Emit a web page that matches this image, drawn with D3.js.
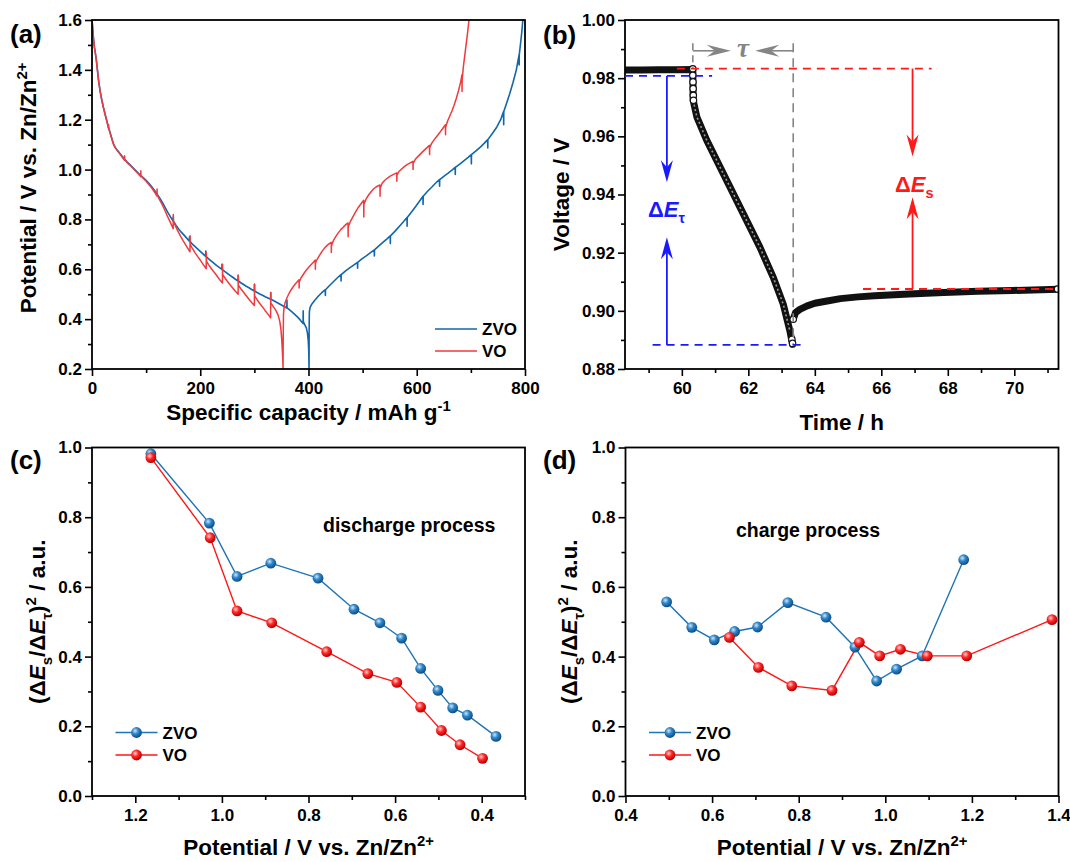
<!DOCTYPE html>
<html><head><meta charset="utf-8">
<script src="https://cdn.jsdelivr.net/npm/d3@7"></script>
<style>
body{margin:0;background:#fff}
svg{display:block;font-family:"Liberation Sans",Arial,sans-serif;font-weight:bold}
</style></head><body>
<svg id="fig" width="1070" height="862"></svg>
<script>
// ---------------- (a) GITT profiles: [specific capacity (mAh/g), potential (V)] ----------------
const zvoGitt = [[0,1.60],[1,1.575],[2,1.545],[3,1.52],[4.5,1.49],[6,1.47],[8,1.44],[10,1.40],[12,1.36],[15,1.315],[18,1.28],[21,1.25],[25,1.215],[28,1.19],[30,1.172],[33,1.152],[37,1.122],[40,1.102],[43,1.089],[47,1.077],[50,1.069],[55,1.055],[60,1.042],[65,1.03],[70,1.02],[75,1.009],[80,0.998],[85,0.987],[90,0.976],[95,0.967],[100,0.957],[105,0.945],[110,0.932],[115,0.918],[120,0.902],[125,0.886],[130,0.868],[135,0.848],[140,0.828],[145,0.81],[150,0.793],[150.2,0.81],[150.4,0.793],[155,0.777],[160,0.762],[165,0.749],[170,0.737],[175,0.725],[180,0.713],[180.2,0.73],[180.4,0.713],[185,0.702],[190,0.692],[195,0.682],[200,0.672],[205,0.662],[210,0.652],[210.2,0.673],[210.4,0.652],[215,0.643],[220,0.634],[225,0.625],[230,0.616],[235,0.608],[240,0.6],[240.2,0.62],[240.4,0.6],[245,0.592],[250,0.584],[255,0.576],[260,0.568],[265,0.56],[270,0.553],[270.2,0.576],[270.4,0.553],[275,0.546],[280,0.539],[285,0.532],[290,0.526],[295,0.519],[300,0.513],[300.2,0.54],[300.4,0.513],[305,0.507],[310,0.501],[315,0.496],[320,0.49],[325,0.485],[330,0.48],[330.2,0.507],[330.4,0.48],[335,0.475],[340,0.469],[345,0.463],[350,0.457],[355,0.451],[360,0.445],[360.2,0.477],[360.4,0.445],[365,0.437],[370,0.428],[375,0.418],[380,0.408],[385,0.396],[388,0.388],[390,0.382],[390.2,0.433],[390.4,0.39],[393,0.378],[396,0.365],[398,0.345],[399.5,0.315],[400.5,0.27],[401,0.2],
  [401.2,0.36],[401.6,0.43],[403,0.447],[406,0.46],[412,0.477],[418,0.492],[424,0.505],[431,0.518],[431.2,0.495],[431.4,0.518],[438,0.533],[445,0.548],[452,0.563],[460,0.579],[460.2,0.553],[460.4,0.579],[468,0.593],[476,0.606],[484,0.618],[490.5,0.628],[490.7,0.604],[490.9,0.628],[498,0.641],[506,0.653],[514,0.666],[521.5,0.678],[521.7,0.653],[521.9,0.678],[530,0.694],[538,0.709],[545,0.722],[551,0.734],[551.2,0.703],[551.4,0.734],[560,0.753],[568,0.773],[575,0.79],[582,0.808],[582.2,0.773],[582.4,0.808],[590,0.829],[598,0.852],[605,0.873],[611.5,0.893],[611.7,0.86],[611.9,0.893],[620,0.913],[628,0.93],[635,0.946],[642,0.96],[642.2,0.933],[642.4,0.96],[650,0.973],[658,0.986],[665,0.998],[671,1.009],[671.2,0.98],[671.4,1.009],[680,1.023],[688,1.037],[695,1.049],[700.7,1.06],[700.9,1.023],[701.1,1.06],[710,1.076],[718,1.091],[725,1.106],[731,1.12],[731.2,1.087],[731.4,1.12],[740,1.146],[748,1.171],[755,1.2],[760.4,1.233],[760.6,1.18],[760.8,1.233],[766,1.266],[772,1.306],[778,1.35],[784,1.40],[789,1.46],[789.2,1.42],[789.4,1.46],[792,1.51],[794,1.55],[796,1.6]];

const voGitt = [[0,1.60],[1,1.575],[2,1.545],[3,1.52],[4.5,1.49],[6,1.47],[8,1.44],[10,1.40],[12,1.36],[15,1.315],[18,1.28],[21,1.25],[25,1.215],[28,1.19],[30.5,1.165],[30.7,1.18],[30.9,1.167],[33,1.15],[37,1.12],[40,1.10],[43,1.087],[47,1.075],[50,1.067],[55,1.052],[60,1.037],[60.2,1.055],[60.4,1.04],[65,1.028],[70,1.018],[75,1.007],[80,0.995],[85,0.984],[90,0.971],[90.2,0.995],[90.4,0.976],[95,0.964],[100,0.953],[105,0.94],[110,0.927],[115,0.912],[120,0.893],[120.2,0.922],[120.4,0.898],[125,0.878],[130,0.858],[135,0.835],[140,0.81],[145,0.787],[150,0.763],[150.2,0.82],[150.4,0.795],[154,0.775],[158,0.756],[163,0.735],[168,0.716],[173,0.698],[177,0.684],[181,0.67],[181.2,0.735],[181.4,0.70],[185,0.686],[190,0.668],[195,0.652],[200,0.637],[205,0.621],[211,0.602],[211.2,0.668],[211.4,0.633],[215,0.62],[220,0.604],[225,0.59],[230,0.576],[235,0.561],[241,0.545],[241.2,0.62],[241.4,0.58],[245,0.567],[250,0.552],[255,0.538],[260,0.525],[265,0.512],[270,0.50],[270.2,0.576],[270.4,0.536],[275,0.522],[280,0.508],[285,0.494],[290,0.48],[295,0.467],[300,0.455],[300.2,0.54],[300.4,0.493],[305,0.478],[310,0.463],[315,0.449],[320,0.434],[325,0.42],[330,0.405],[330.2,0.507],[330.4,0.465],[335,0.45],[340,0.434],[344,0.415],[347,0.39],[349,0.36],[350.5,0.32],[351.5,0.28],[352.5,0.24],[353,0.2],
  [353.3,0.33],[353.8,0.42],[355,0.45],[357,0.468],[360,0.485],[364,0.503],[368,0.518],[372,0.531],[376,0.542],[380,0.552],[382.5,0.558],[382.7,0.525],[382.9,0.548],[386,0.565],[390,0.578],[395,0.594],[400,0.607],[405,0.619],[409,0.628],[412.5,0.637],[412.7,0.6],[412.9,0.625],[416,0.64],[420,0.655],[425,0.672],[430,0.686],[435,0.697],[439,0.704],[442,0.708],[442.2,0.667],[442.4,0.695],[446,0.715],[450,0.73],[455,0.746],[460,0.76],[465,0.771],[470,0.781],[473,0.786],[473.2,0.731],[473.4,0.77],[477,0.79],[482,0.81],[487,0.83],[492,0.848],[497,0.863],[502,0.877],[502.2,0.81],[502.4,0.86],[506,0.88],[511,0.898],[516,0.912],[521,0.924],[526,0.932],[532,0.938],[532.2,0.893],[532.4,0.925],[536,0.945],[541,0.957],[546,0.966],[551,0.974],[557,0.981],[563,0.987],[563.2,0.953],[563.4,0.978],[567,0.992],[572,1.002],[577,1.012],[582,1.02],[588,1.027],[593,1.033],[593.2,1.0],[593.4,1.025],[597,1.04],[602,1.052],[607,1.063],[612,1.074],[618,1.086],[623.5,1.097],[623.7,1.06],[623.9,1.088],[628,1.107],[633,1.122],[638,1.136],[643,1.15],[648,1.165],[653,1.18],[653.2,1.14],[653.4,1.17],[657,1.195],[661,1.215],[665,1.235],[669,1.258],[673,1.285],[677,1.315],[681,1.35],[683.5,1.38],[683.7,1.313],[683.9,1.36],[686,1.41],[688,1.445],[690,1.48],[692,1.515],[694,1.55],[696.5,1.6]];

const capMajor = [0,200,400,600,800];
const capMinor = [100,300,500,700];
const potMajorA = [0.2,0.4,0.6,0.8,1.0,1.2,1.4,1.6];
const potMinorA = [0.3,0.5,0.7,0.9,1.1,1.3,1.5];

// ---------------- (b) single titration step: [time (h), voltage (V)] ----------------
const pulseTrace = [[58.29,0.9828],[58.8,0.9828],[59.3,0.9829],[59.8,0.9829],[60.33,0.9830],[60.34,0.9724],[60.45,0.9667],[60.75,0.9586],[61.15,0.9494],[61.55,0.9402],[61.95,0.9310],[62.35,0.9218],[62.75,0.9115],[63.05,0.9023],[63.25,0.8931],[63.30,0.8902],[63.33,0.8885]];
const relaxTrace = [[63.35,0.8971],[63.42,0.8994],[63.55,0.9005],[63.77,0.9017],[64.0,0.9026],[64.37,0.9034],[64.77,0.9042],[65.3,0.9048],[65.8,0.9052],[66.84,0.9058],[67.88,0.9063],[68.91,0.9067],[69.95,0.9070],[71.33,0.9074]];
const openSamples = [[60.33,0.9832],[60.33,0.9810],[60.335,0.9787],[60.34,0.9764],[60.345,0.9741],[60.35,0.9724],[63.31,0.8902],[63.33,0.8888],[63.35,0.8971],[71.3,0.9075]];
const timeMajor = [60,62,64,66,68,70];
const timeMinor = [59,61,63,65,67,69,71];
const voltMajor = [0.88,0.90,0.92,0.94,0.96,0.98,1.00];
const voltMinor = [0.89,0.91,0.93,0.95,0.97,0.99];
// step markers (h) and characteristic voltages (V)
const tPulseOn = 60.33, tPulseOff = 63.35;
const E0 = 0.9833, E_ir = 0.9808, E_end = 0.8883, E_relax = 0.9075;

// ---------------- (c) discharge ----------------
const disPotZVO = [1.164,1.029,0.965,0.887,0.778,0.695,0.635,0.585,0.541,0.501,0.467,0.433,0.367];
const disValZVO = [0.982,0.783,0.630,0.668,0.625,0.536,0.497,0.453,0.366,0.303,0.253,0.232,0.171];
const disPotVO  = [1.164,1.027,0.965,0.885,0.758,0.663,0.596,0.541,0.493,0.450,0.398];
const disValVO  = [0.971,0.741,0.531,0.497,0.414,0.351,0.326,0.255,0.188,0.147,0.108];
const potMajorC = [1.2,1.0,0.8,0.6,0.4];
const potMinorC = [1.3,1.1,0.9,0.7,0.5,0.3];

// ---------------- (d) charge ----------------
const chgPotZVO = [0.495,0.553,0.605,0.652,0.705,0.775,0.863,0.930,0.980,1.026,1.085,1.181];
const chgValZVO = [0.557,0.484,0.448,0.472,0.485,0.555,0.513,0.427,0.330,0.364,0.402,0.678];
const chgPotVO  = [0.640,0.707,0.784,0.877,0.940,0.987,1.035,1.097,1.188,1.385];
const chgValVO  = [0.455,0.369,0.316,0.303,0.441,0.402,0.421,0.402,0.402,0.506];
const potMajorD = [0.4,0.6,0.8,1.0,1.2,1.4];
const potMinorD = [0.5,0.7,0.9,1.1,1.3];
const ratioMajor = [0,0.2,0.4,0.6,0.8,1.0];
const ratioMinor = [0.1,0.3,0.5,0.7,0.9];

const seriesNames = ["ZVO","VO"];

// ---------------- drawing ----------------
const svg = d3.select("#fig");
const FONT = '"Liberation Sans",Arial,sans-serif';
const BLUE_A = "#1266ac", RED_A = "#f03a3d";
const BLUE = "#1f74b6", RED = "#ff1616";

const defs = svg.append("defs");
function ball(id, hi, mid, lo){
  const g = defs.append("radialGradient").attr("id",id).attr("cx","38%").attr("cy","35%").attr("r","65%");
  g.append("stop").attr("offset","0").attr("stop-color",hi);
  g.append("stop").attr("offset","0.45").attr("stop-color",mid);
  g.append("stop").attr("offset","1").attr("stop-color",lo);
}
ball("ballBlue","#cfe6fb","#2f86c8","#0c4d86");
ball("ballRed","#ffd2d2","#ff2a2a","#b50000");

const PA = {l:92, r:525, t:20, b:369};
const PB = {l:625, r:1058.5, t:20, b:369};
const PC = {l:92, r:525, t:447.5, b:796};
const PD = {l:625.5, r:1058.5, t:447.5, b:796};

function rich(sel, parts, size){
  let off = 0;
  parts.forEach(p => {
    const target = p.sub ? size*0.3 : p.sup ? -size*0.42 : 0;
    const ts = sel.append("tspan").text(p.t).attr("dy", target - off);
    off = target;
    if (p.sub || p.sup) ts.attr("font-size", size*0.66);
    if (p.i) ts.attr("font-style","italic");
  });
  return sel;
}

function axes(P, x, y, xMaj, xMin, yMaj, yMin, xf, yf){
  const g = svg.append("g");
  const bx = g.append("g").attr("transform",`translate(0,${P.b})`);
  bx.call(d3.axisBottom(x).tickValues(xMaj).tickFormat(xf).tickSize(7).tickPadding(6).tickSizeOuter(0));
  bx.append("g").call(d3.axisBottom(x).tickValues(xMin).tickFormat("").tickSize(4).tickSizeOuter(0));
  const ly = g.append("g").attr("transform",`translate(${P.l},0)`);
  ly.call(d3.axisLeft(y).tickValues(yMaj).tickFormat(yf).tickSize(7).tickPadding(3).tickSizeOuter(0));
  ly.append("g").call(d3.axisLeft(y).tickValues(yMin).tickFormat("").tickSize(4).tickSizeOuter(0));
  g.selectAll(".domain").remove();
  g.selectAll(".tick line").attr("stroke","#000").attr("stroke-width",1.6);
  g.selectAll(".tick text").attr("font-size",17).attr("font-weight","bold").attr("font-family",FONT).attr("fill","#000");
  g.append("rect").attr("x",P.l).attr("y",P.t).attr("width",P.r-P.l).attr("height",P.b-P.t)
    .attr("fill","none").attr("stroke","#000").attr("stroke-width",1.8);
}

function clip(id, P){
  defs.append("clipPath").attr("id",id).append("rect")
    .attr("x",P.l).attr("y",P.t).attr("width",P.r-P.l).attr("height",P.b-P.t);
}

function panelLetter(txt, x, y){
  svg.append("text").attr("x",x).attr("y",y).attr("font-size",26).attr("font-weight","bold").text(txt);
}

function xTitle(P, y, parts){
  rich(svg.append("text").attr("x",(P.l+P.r)/2).attr("y",y).attr("text-anchor","middle").attr("font-size",22.5), parts, 22.5);
}
function yTitle(P, x, parts, cy){
  const c = cy === undefined ? (P.t+P.b)/2 : cy;
  rich(svg.append("text").attr("transform",`translate(${x},${c}) rotate(-90)`).attr("text-anchor","middle").attr("font-size",22.5), parts, 22.5);
}

const potTitle = [{t:"Potential / V vs. Zn/Zn"},{t:"2+",sup:true}];
const ratioTitle = [{t:"(Δ"},{t:"E",i:true},{t:"s",sub:true},{t:"/Δ"},{t:"E",i:true},{t:"τ",sub:true},{t:")"},{t:"2",sup:true},{t:" / a.u."}];

// ===== (a) =====
{
  const x = d3.scaleLinear().domain([0,800]).range([PA.l,PA.r]);
  const y = d3.scaleLinear().domain([0.2,1.6]).range([PA.b,PA.t]);
  clip("clipA",PA);
  const line = d3.line().x(d=>x(d[0])).y(d=>y(d[1]));
  const g = svg.append("g").attr("clip-path","url(#clipA)");
  g.append("path").attr("d",line(zvoGitt)).attr("fill","none").attr("stroke",BLUE_A).attr("stroke-width",1.6).attr("stroke-linejoin","round");
  g.append("path").attr("d",line(voGitt)).attr("fill","none").attr("stroke",RED_A).attr("stroke-width",1.5).attr("stroke-linejoin","round");
  axes(PA,x,y,capMajor,capMinor,potMajorA,potMinorA,d3.format("d"),d3.format(".1f"));
  // legend
  [[BLUE_A,329],[RED_A,351]].forEach((c,i)=>{
    svg.append("line").attr("x1",435).attr("x2",477).attr("y1",c[1]).attr("y2",c[1]).attr("stroke",c[0]).attr("stroke-width",1.6);
    svg.append("text").attr("x",482).attr("y",c[1]).attr("dy","0.36em").attr("font-size",17).text(seriesNames[i]);
  });
  panelLetter("(a)",10,43);
  xTitle(PA, 420, [{t:"Specific capacity / mAh g"},{t:"-1",sup:true}]);
  yTitle(PA, 36, potTitle, 188);
}

// ===== (b) =====
{
  const x = d3.scaleLinear().domain([58.29,71.33]).range([PB.l,PB.r]);
  const y = d3.scaleLinear().domain([0.88,1.00]).range([PB.b,PB.t]);
  clip("clipB",PB);
  const line = d3.line().x(d=>x(d[0])).y(d=>y(d[1]));
  const g = svg.append("g").attr("clip-path","url(#clipB)");
  [pulseTrace, relaxTrace].forEach(tr=>{
    g.append("path").attr("d",line(tr)).attr("fill","none").attr("stroke","#111").attr("stroke-width",7).attr("stroke-linejoin","round").attr("stroke-linecap","round");
  });
  // open-circle texture along the fast-changing part
  const drop = pulseTrace.filter(d=>d[0]>60.335 && d[0]<63.3);
  g.append("path").attr("d",line(drop)).attr("fill","none").attr("stroke","#9a9a9a").attr("stroke-width",1.6).attr("stroke-dasharray","2 2.5");
  g.selectAll("circle.s").data(openSamples).join("circle")
    .attr("cx",d=>x(d[0])).attr("cy",d=>y(d[1])).attr("r",3.2)
    .attr("fill","#fff").attr("stroke","#111").attr("stroke-width",1.2);

  axes(PB,x,y,timeMajor,timeMinor,voltMajor,voltMinor,d3.format("d"),d3.format(".2f"));

  const ann = svg.append("g");
  const dash = (t1,t2,v1,v2,col,w,da)=>ann.append("line").attr("x1",x(t1)).attr("x2",x(t2)).attr("y1",y(v1)).attr("y2",y(v2))
      .attr("stroke",col).attr("stroke-width",w).attr("stroke-dasharray",da);
  const GRAY = "#858585", BL = "#1a1aff", RD = "#ff1a1a";
  const vTop = 0.992, vArrow = 0.98941;
  dash(tPulseOn,tPulseOn,vTop,E0,GRAY,1.6,"7 5");
  dash(tPulseOff,tPulseOff,vTop,E_end,GRAY,1.6,"9 6");
  dash(59.85,67.51,E0,E0,RD,1.8,"8 6");
  dash(58.29,60.91,E_ir,E_ir,BL,1.8,"8 6");
  dash(59.12,63.63,E_end,E_end,BL,1.8,"8 6");
  dash(65.45,71.33,E_relax,E_relax,RD,1.8,"8 6");

  function head(tx,ty,ang,col,len,half,notch){
    ann.append("path").attr("d",`M0,0L${-len},${-half}L${-len+notch},0L${-len},${half}Z`)
      .attr("transform",`translate(${tx},${ty}) rotate(${ang})`).attr("fill",col);
  }
  function arrow(x1,y1,x2,y2,col,w,len,half,notch){
    const ang = Math.atan2(y2-y1,x2-x1)*180/Math.PI;
    const ux=(x2-x1)/Math.hypot(x2-x1,y2-y1), uy=(y2-y1)/Math.hypot(x2-x1,y2-y1);
    ann.append("line").attr("x1",x1).attr("y1",y1).attr("x2",x2-ux*(len-notch)).attr("y2",y2-uy*(len-notch))
      .attr("stroke",col).attr("stroke-width",w);
    head(x2,y2,ang,col,len,half,notch);
  }
  // tau bracket
  arrow(x(tPulseOn),y(vArrow),x(tPulseOn)+38,y(vArrow),GRAY,1.6,24,6,8);
  arrow(x(tPulseOff),y(vArrow),x(tPulseOff)-38,y(vArrow),GRAY,1.6,24,6,8);
  svg.append("text").attr("x",(x(tPulseOn)+x(tPulseOff))/2).attr("y",y(vArrow)+6).attr("text-anchor","middle")
    .attr("font-family",'"Liberation Serif","Times New Roman",serif').attr("font-style","italic").attr("font-size",27).attr("fill",GRAY).text("τ");
  // ΔEτ and ΔEs
  const tB = 59.55, tR = 66.94;
  arrow(x(tB),y(E_ir),x(tB),y(0.94424),BL,1.8,22,6,7);
  arrow(x(tB),y(E_end),x(tB),y(0.92528),BL,1.8,22,6,7);
  arrow(x(tR),y(E0),x(tR),y(0.9531),RD,1.8,22,6,7);
  arrow(x(tR),y(E_relax),x(tR),y(0.93907),RD,1.8,22,6,7);
  rich(svg.append("text").attr("x",648).attr("y",216.5).attr("font-size",22).attr("fill",BL),
    [{t:"Δ"},{t:"E",i:true},{t:"τ",sub:true}],22);
  rich(svg.append("text").attr("x",895).attr("y",191.5).attr("font-size",22).attr("fill",RD),
    [{t:"Δ"},{t:"E",i:true},{t:"s",sub:true}],22);

  panelLetter("(b)",543,44);
  xTitle(PB, 430, [{t:"Time / h"}]);
  yTitle(PB, 569, [{t:"Voltage / V"}]);
}

// ===== (c) & (d) =====
function ratioPanel(P, dom, xMaj, xMin, zx, zy, vx, vy, letter, note, legX, clipId){
  const x = d3.scaleLinear().domain(dom).range([P.l,P.r]);
  const y = d3.scaleLinear().domain([0,1]).range([P.b,P.t]);
  clip(clipId,P);
  const line = d3.line().x(d=>x(d[0])).y(d=>y(d[1]));
  const g = svg.append("g").attr("clip-path",`url(#${clipId})`);
  const sets = [[d3.zip(zx,zy),BLUE,"ballBlue"],[d3.zip(vx,vy),RED,"ballRed"]];
  sets.forEach(s=>{
    g.append("path").attr("d",line(s[0])).attr("fill","none").attr("stroke",s[1]).attr("stroke-width",1.4);
  });
  sets.forEach(s=>{
    g.selectAll(null).data(s[0]).join("circle").attr("cx",d=>x(d[0])).attr("cy",d=>y(d[1])).attr("r",5.4)
      .attr("fill",`url(#${s[2]})`);
  });
  axes(P,x,y,xMaj,xMin,ratioMajor,ratioMinor,d3.format(".1f"),d3.format(".1f"));
  [[BLUE,"ballBlue",732.5],[RED,"ballRed",755]].forEach((c,i)=>{
    svg.append("line").attr("x1",legX).attr("x2",legX+42).attr("y1",c[2]).attr("y2",c[2]).attr("stroke",c[0]).attr("stroke-width",1.4);
    svg.append("circle").attr("cx",legX+21).attr("cy",c[2]).attr("r",5.4).attr("fill",`url(#${c[1]})`);
    svg.append("text").attr("x",legX+47).attr("y",c[2]).attr("dy","0.36em").attr("font-size",17).text(seriesNames[i]);
  });
  svg.append("text").attr("x",note[0]).attr("y",note[1]).attr("font-size",19.5).text(note[2]);
  panelLetter(letter[0],letter[1],letter[2]);
  xTitle(P, 855, potTitle);
}
ratioPanel(PC,[1.3,0.3],potMajorC,potMinorC,disPotZVO,disValZVO,disPotVO,disValVO,["(c)",10,469],[323,532,"discharge process"],115.5,"clipC");
yTitle(PC, 45, ratioTitle);
ratioPanel(PD,[0.4,1.4],potMajorD,potMinorD,chgPotZVO,chgValZVO,chgPotVO,chgValVO,["(d)",543,469],[736,537,"charge process"],649,"clipD");
yTitle(PD, 577, ratioTitle);
</script>
</body></html>
